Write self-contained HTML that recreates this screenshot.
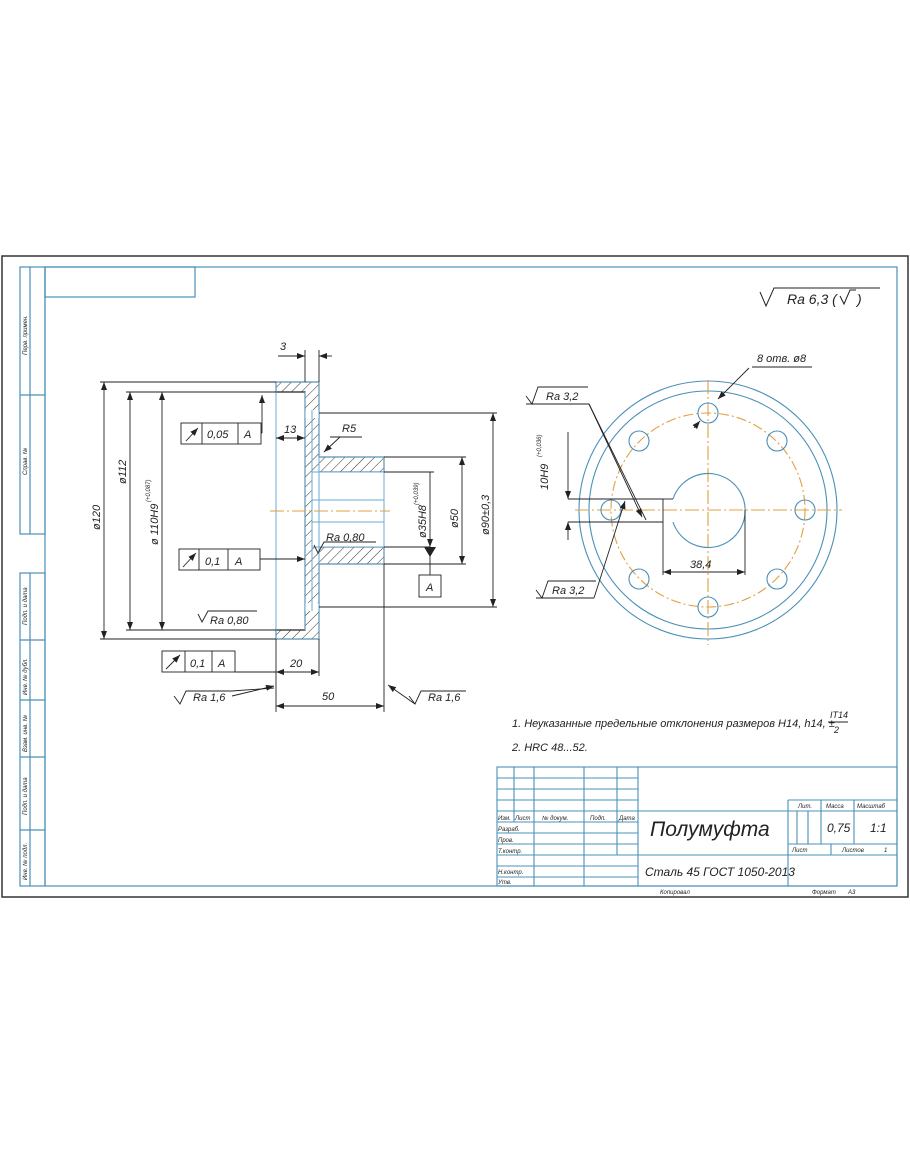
<!DOCTYPE html>
<html><head><meta charset="utf-8"><style>
html,body{margin:0;padding:0;background:#fff;}
svg{display:block}
text{font-family:"Liberation Sans",sans-serif;font-style:italic;fill:#222}
</style></head><body>
<svg width="910" height="1155" viewBox="0 0 910 1155" xmlns="http://www.w3.org/2000/svg">
<defs>
<pattern id="h" width="7" height="7" patternUnits="userSpaceOnUse" patternTransform="rotate(45)">
<rect width="7" height="7" fill="#fff"/><line x1="0" y1="0" x2="0" y2="7" stroke="#333" stroke-width="1"/></pattern>
<marker id="a" markerWidth="8" markerHeight="6" refX="8" refY="3" orient="auto-start-reverse" markerUnits="userSpaceOnUse"><path d="M0,0 L8,3 L0,6z" fill="#222"/></marker>
</defs>
<rect x="2" y="256" width="906" height="641" fill="none" stroke="#333" stroke-width="1.5"/>
<g stroke="#4a90b8" fill="none" stroke-width="1.2">
<rect x="45" y="267" width="852" height="619"/>
<rect x="45" y="267" width="150" height="30"/>
<rect x="20" y="267" width="25" height="267"/><line x1="30" y1="267" x2="30" y2="534"/><line x1="20" y1="395" x2="45" y2="395"/>
<rect x="20" y="573" width="25" height="313"/><line x1="30" y1="573" x2="30" y2="886"/>
<line x1="20" y1="640" x2="45" y2="640"/><line x1="20" y1="700" x2="45" y2="700"/><line x1="20" y1="757" x2="45" y2="757"/><line x1="20" y1="830" x2="45" y2="830"/>
</g>
<g font-size="6">
<text transform="translate(27,355) rotate(-90)">Перв. примен.</text>
<text transform="translate(27,475) rotate(-90)">Справ. №</text>
<text transform="translate(27,625) rotate(-90)">Подп. и дата</text>
<text transform="translate(27,695) rotate(-90)">Инв. № дубл.</text>
<text transform="translate(27,752) rotate(-90)">Взам. инв. №</text>
<text transform="translate(27,815) rotate(-90)">Подп. и дата</text>
<text transform="translate(27,880) rotate(-90)">Инв. № подл.</text>
</g>
<!-- roughness top right -->
<path d="M760,292 L766,306 L774,288 L880,288" stroke="#222" fill="none"/>
<text x="787" y="304" font-size="14">Ra 6,3 (</text>
<path d="M840,296 L844,304 L850,290 L856,290" stroke="#222" fill="none"/>
<text x="857" y="304" font-size="14">)</text>

<!-- SECTION VIEW -->
<g stroke="#222" stroke-width="1.2">
<path d="M276,382 L319,382 L319,457 L384,457 L384,472 L319,472 L319,547 L384,547 L384,564 L319,564 L319,639 L276,639 L276,630 L305,630 L305,392 L276,392 Z" fill="url(#h)"/>
<rect x="312" y="472" width="72" height="75" fill="#fff" stroke="none"/>
<rect x="305" y="410" width="14" height="8" fill="#fff" stroke="none"/>
<rect x="305" y="603" width="14" height="8" fill="#fff" stroke="none"/>
</g>
<g stroke="#6aaad0" fill="none" stroke-width="1">
<rect x="276" y="382" width="43" height="257"/><line x1="305" y1="392" x2="305" y2="630"/>
<line x1="312" y1="410" x2="312" y2="611"/>
<rect x="319" y="457" width="65" height="107"/><line x1="312" y1="472" x2="384" y2="472"/><line x1="312" y1="547" x2="384" y2="547"/>
<line x1="312" y1="500" x2="384" y2="500"/><line x1="312" y1="522" x2="384" y2="522"/>
</g>
<line x1="270" y1="511" x2="390" y2="511" stroke="#e0a040" stroke-dasharray="14,3,2,3"/>
<g stroke="#222" stroke-width="0.9" fill="none">
<!-- extension lines -->
<line x1="100" y1="382" x2="276" y2="382"/><line x1="100" y1="639" x2="276" y2="639"/>
<line x1="126" y1="392" x2="276" y2="392"/><line x1="126" y1="630" x2="276" y2="630"/>
<line x1="158" y1="392" x2="262" y2="392"/>
<line x1="319" y1="413" x2="497" y2="413"/><line x1="319" y1="607" x2="497" y2="607"/>
<line x1="384" y1="457" x2="466" y2="457"/><line x1="384" y1="564" x2="466" y2="564"/>
<line x1="384" y1="472" x2="434" y2="472"/>
<line x1="305" y1="350" x2="305" y2="382"/><line x1="319" y1="350" x2="319" y2="382"/>
<line x1="276" y1="639" x2="276" y2="712"/><line x1="384" y1="564" x2="384" y2="712"/><line x1="319" y1="639" x2="319" y2="676"/>
<!-- dims -->
<line x1="104" y1="382" x2="104" y2="639" marker-start="url(#a)" marker-end="url(#a)"/>
<line x1="130" y1="392" x2="130" y2="630" marker-start="url(#a)" marker-end="url(#a)"/>
<line x1="162" y1="392" x2="162" y2="630" marker-start="url(#a)" marker-end="url(#a)"/>
<line x1="493" y1="413" x2="493" y2="607" marker-start="url(#a)" marker-end="url(#a)"/>
<line x1="462" y1="457" x2="462" y2="564" marker-start="url(#a)" marker-end="url(#a)"/>
<line x1="430" y1="472" x2="430" y2="547" marker-end="url(#a)"/>
<line x1="276" y1="706" x2="384" y2="706" marker-start="url(#a)" marker-end="url(#a)"/>
<line x1="276" y1="672" x2="319" y2="672" marker-start="url(#a)" marker-end="url(#a)"/>
<line x1="276" y1="438" x2="305" y2="438" marker-start="url(#a)" marker-end="url(#a)"/>
<line x1="278" y1="356" x2="305" y2="356" marker-end="url(#a)"/><line x1="332" y1="356" x2="319" y2="356" marker-end="url(#a)"/>
<line x1="384" y1="547" x2="430" y2="547"/><line x1="430" y1="547" x2="430" y2="575"/>
<!-- tolerance frames -->
<rect x="181" y="423" width="80" height="21"/><line x1="202" y1="423" x2="202" y2="444"/><line x1="238" y1="423" x2="238" y2="444"/>
<line x1="261" y1="433" x2="262" y2="433"/><line x1="262" y1="433" x2="262" y2="395" marker-end="url(#a)"/>
<rect x="179" y="549" width="81" height="21"/><line x1="199" y1="549" x2="199" y2="570"/><line x1="228" y1="549" x2="228" y2="570"/>
<line x1="260" y1="559" x2="305" y2="559" marker-end="url(#a)"/>
<rect x="162" y="651" width="73" height="21"/><line x1="185" y1="651" x2="185" y2="672"/><line x1="212" y1="651" x2="212" y2="672"/>
<line x1="235" y1="672" x2="276" y2="672"/>
<rect x="419" y="575" width="22" height="22"/>
<!-- arrows in frames -->
<line x1="186" y1="441" x2="198" y2="428" marker-end="url(#a)"/>
<line x1="183" y1="567" x2="196" y2="553" marker-end="url(#a)"/>
<line x1="166" y1="669" x2="180" y2="655" marker-end="url(#a)"/>
<!-- R5 -->
<line x1="330" y1="437" x2="362" y2="437"/><line x1="340" y1="437" x2="324" y2="452" marker-end="url(#a)"/>
<!-- Ra symbols -->
<path d="M198,614 L202,622 L208,611 L257,611"/>
<path d="M314,545 L318,553 L324,542 L376,542"/>
<path d="M174,696 L180,704 L186,691 L232,691 L274,688"/><line x1="232" y1="696" x2="274" y2="686" marker-end="url(#a)"/>
<path d="M409,696 L415,704 L421,691 L466,691"/><line x1="415" y1="704" x2="388" y2="685" marker-end="url(#a)"/>
</g>
<path d="M424,547 L436,547 L430,557z" fill="#222"/>
<g font-size="11">
<text x="280" y="350">3</text>
<text x="284" y="433">13</text>
<text x="342" y="432">R5</text>
<text x="290" y="667">20</text>
<text x="322" y="700">50</text>
<text x="207" y="438">0,05</text><text x="244" y="438">A</text>
<text x="205" y="565">0,1</text><text x="235" y="565">A</text>
<text x="190" y="667">0,1</text><text x="218" y="667">A</text>
<text x="426" y="591">A</text>
<text x="210" y="624">Ra 0,80</text>
<text x="326" y="541">Ra 0,80</text>
<text x="193" y="701">Ra 1,6</text>
<text x="428" y="701">Ra 1,6</text>
<text transform="translate(100,530) rotate(-90)">ø120</text>
<text transform="translate(126,484) rotate(-90)">ø112</text>
<text transform="translate(158,545) rotate(-90)">ø 110H9</text>
<text transform="translate(150,502) rotate(-90)" font-size="6">(+0,087)</text>
<text transform="translate(458,528) rotate(-90)">ø50</text>
<text transform="translate(489,535) rotate(-90)">ø90±0,3</text>
<text transform="translate(426,538) rotate(-90)">ø35H8</text>
<text transform="translate(418,505) rotate(-90)" font-size="6">(+0,039)</text>
</g>

<!-- END VIEW -->
<g fill="none" stroke-width="1.1">
<circle cx="708" cy="510" r="129" stroke="#4a90b8"/>
<circle cx="708" cy="510" r="119" stroke="#4a90b8"/>
<circle cx="708" cy="510" r="97" stroke="#e0a040" stroke-dasharray="10,3,2,3"/>
<line x1="575" y1="510" x2="842" y2="510" stroke="#e0a040" stroke-dasharray="14,3,2,3"/>
<line x1="708" y1="380" x2="708" y2="645" stroke="#e0a040" stroke-dasharray="14,3,2,3"/>
<g stroke="#4a90b8">
<circle cx="708" cy="413" r="10"/><circle cx="708" cy="607" r="10"/>
<circle cx="611" cy="510" r="10"/><circle cx="805" cy="510" r="10"/>
<circle cx="639" cy="441" r="10"/><circle cx="777" cy="441" r="10"/>
<circle cx="639" cy="579" r="10"/><circle cx="777" cy="579" r="10"/>
<path d="M673,499 A37,37 0 1 1 673,522"/>
</g>
</g>
<g stroke="#222" stroke-width="0.9" fill="none">
<line x1="568" y1="499" x2="663" y2="499"/><line x1="568" y1="522" x2="663" y2="522"/>
<line x1="663" y1="499" x2="673" y2="499"/><line x1="663" y1="499" x2="663" y2="575"/><line x1="745" y1="510" x2="745" y2="575"/>
<line x1="663" y1="572" x2="745" y2="572" marker-start="url(#a)" marker-end="url(#a)"/>
<line x1="568" y1="432" x2="568" y2="499" marker-end="url(#a)"/><line x1="568" y1="540" x2="568" y2="522" marker-end="url(#a)"/>
<path d="M526,396 L532,404 L538,387 L588,387"/><line x1="526" y1="404" x2="589" y2="404"/><line x1="589" y1="404" x2="646" y2="520"/><line x1="589" y1="404" x2="642" y2="517" marker-end="url(#a)"/>
<path d="M536,590 L542,598 L548,581 L596,581"/><line x1="536" y1="598" x2="594" y2="598"/><line x1="594" y1="598" x2="625" y2="501" marker-end="url(#a)"/>
<path d="M752,367 L812,367"/><line x1="749" y1="368" x2="718" y2="399" marker-end="url(#a)"/><line x1="694" y1="428" x2="700" y2="421" marker-end="url(#a)"/>
</g>
<g font-size="11">
<text x="757" y="362">8 отв. ø8</text>
<text x="546" y="400">Ra 3,2</text>
<text x="552" y="594">Ra 3,2</text>
<text x="690" y="568">38,4</text>
<text transform="translate(548,490) rotate(-90)">10H9</text>
<text transform="translate(541,457) rotate(-90)" font-size="6">(+0,036)</text>
<text x="512" y="727">1. Неуказанные предельные отклонения размеров H14, h14, ±</text>
<text x="830" y="718" font-size="9">IT14</text><line x1="828" y1="722" x2="848" y2="722" stroke="#222"/><text x="834" y="733" font-size="9">2</text>
<text x="512" y="751">2. HRC 48...52.</text>
</g>

<!-- TITLE BLOCK -->
<g stroke="#4a90b8" fill="none" stroke-width="1.1">
<rect x="497" y="767" width="400" height="119"/>
<line x1="638" y1="767" x2="638" y2="886"/>
<line x1="497" y1="778" x2="638" y2="778"/><line x1="497" y1="789" x2="638" y2="789"/><line x1="497" y1="800" x2="638" y2="800"/>
<line x1="497" y1="811" x2="897" y2="811"/><line x1="497" y1="822" x2="638" y2="822"/><line x1="497" y1="833" x2="638" y2="833"/><line x1="497" y1="844" x2="638" y2="844"/><line x1="497" y1="855" x2="897" y2="855"/><line x1="497" y1="866" x2="638" y2="866"/><line x1="497" y1="877" x2="638" y2="877"/>
<line x1="514" y1="767" x2="514" y2="822"/><line x1="534" y1="767" x2="534" y2="886"/><line x1="584" y1="767" x2="584" y2="886"/><line x1="617" y1="767" x2="617" y2="855"/>
<line x1="788" y1="800" x2="788" y2="886"/><line x1="788" y1="800" x2="897" y2="800"/><line x1="788" y1="844" x2="897" y2="844"/>
<line x1="821" y1="800" x2="821" y2="844"/><line x1="854" y1="800" x2="854" y2="844"/><line x1="788" y1="811" x2="897" y2="811"/>
<line x1="797" y1="811" x2="797" y2="844"/><line x1="808" y1="811" x2="808" y2="844"/><line x1="831" y1="844" x2="831" y2="855"/>
</g>
<g font-size="6">
<text x="498" y="820">Изм.</text><text x="515" y="820">Лист</text><text x="542" y="820">№ докум.</text><text x="590" y="820">Подп.</text><text x="619" y="820">Дата</text>
<text x="498" y="831">Разраб.</text><text x="498" y="842">Пров.</text><text x="498" y="853">Т.контр.</text><text x="498" y="874">Н.контр.</text><text x="498" y="884">Утв.</text>
<text x="798" y="808">Лит.</text><text x="826" y="808">Масса</text><text x="857" y="808">Масштаб</text>
<text x="792" y="852">Лист</text><text x="842" y="852">Листов</text><text x="884" y="852">1</text>
<text x="660" y="894">Копировал</text><text x="812" y="894">Формат</text><text x="848" y="894">А3</text>
</g>
<text x="650" y="836" font-size="21">Полумуфта</text>
<text x="645" y="876" font-size="12">Сталь 45 ГОСТ 1050-2013</text>
<text x="827" y="832" font-size="12">0,75</text>
<text x="870" y="832" font-size="12">1:1</text>
</svg>
</body></html>
